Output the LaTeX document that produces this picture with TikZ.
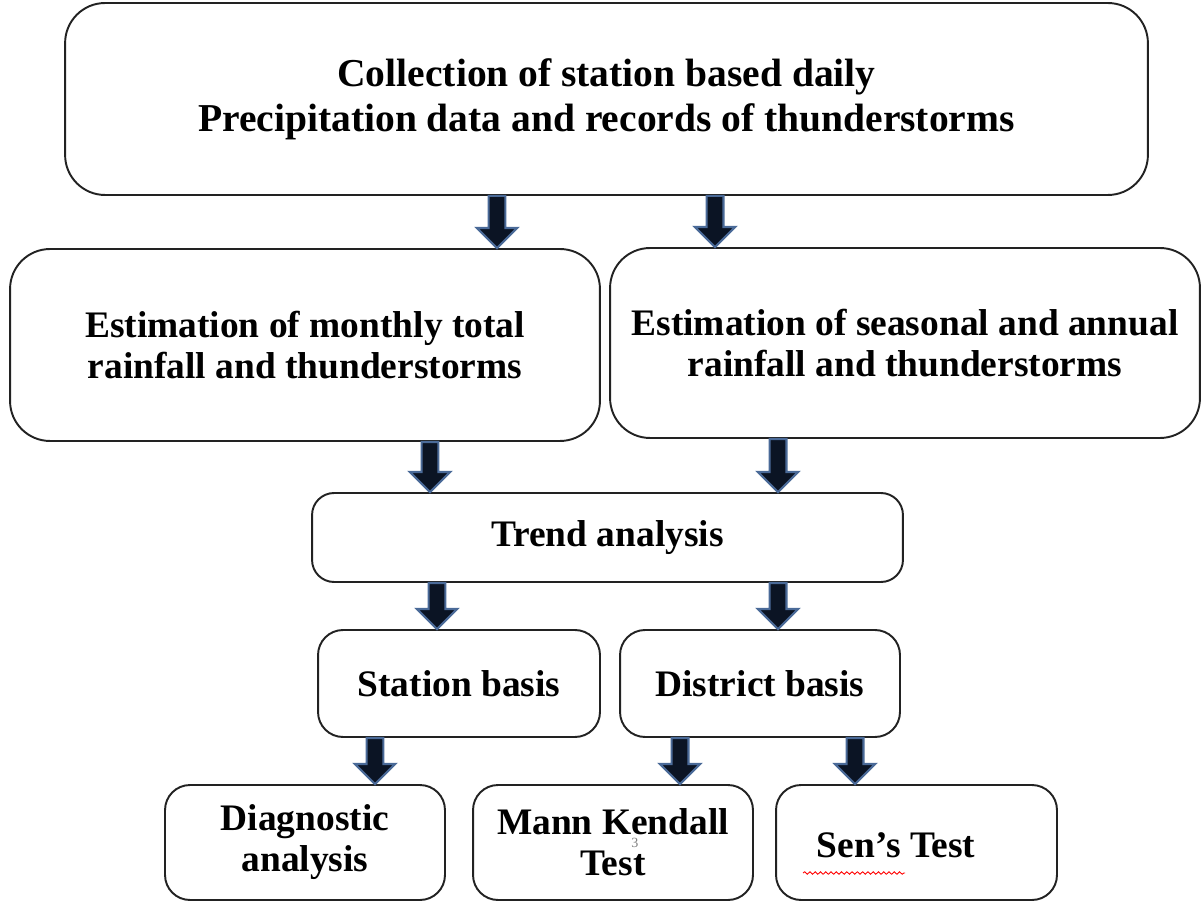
\documentclass[tikz,border=0pt]{standalone}
\usepackage{fontspec}
\setmainfont{Liberation Serif}
\usetikzlibrary{calc,decorations.pathmorphing}
\definecolor{arrfill}{HTML}{0B1424}
\definecolor{arredge}{HTML}{4A6A98}
\definecolor{boxline}{HTML}{222222}
\tikzset{
 box/.style={draw=boxline, line width=1.1pt, rectangle, align=center, inner sep=0pt,
   font=\bfseries\fontsize{21.3}{23.3}\selectfont},
 boxtext/.style={align=center, inner sep=0pt, font=\bfseries\fontsize{21.3}{23.3}\selectfont},
 blockarrow/.style={fill=arrfill, draw=arredge, line width=1.2pt, line join=miter,
   to path={let \p1=(\tikztostart), \p2=(\tikztotarget) in
     (\x1-4.8pt,\y1) -- (\x1-4.8pt,\y2+11.4pt) -- (\x1-11.5pt,\y2+11.4pt) -- (\x1,\y2)
     -- (\x1+11.5pt,\y2+11.4pt) -- (\x1+4.8pt,\y2+11.4pt) -- (\x1+4.8pt,\y1) -- cycle}},
}
\begin{document}
\begin{tikzpicture}[x=0.02cm,y=-0.02cm]
\useasboundingbox (0,0) rectangle (1202,908);
\node[box, rounded corners=0.8cm, minimum width=21.66cm, minimum height=3.84cm,
  font=\bfseries\fontsize{22.5}{25.6}\selectfont] (top) at (606.5,99)
  {Collection of station based daily\\Precipitation data and records of thunderstorms};
\node[box, rounded corners=0.8cm, minimum width=11.8cm, minimum height=3.84cm] (left) at (305,345)
  {Estimation of monthly total\\rainfall and thunderstorms};
\node[box, rounded corners=0.8cm, minimum width=11.8cm, minimum height=3.8cm] (right) at (905,343)
  {Estimation of seasonal and annual\\rainfall and thunderstorms};
\node[box, rounded corners=0.44cm, minimum width=11.82cm, minimum height=1.78cm] (trend) at (607.5,537.5)
  {Trend analysis};
\node[box, rounded corners=0.5cm, minimum width=5.64cm, minimum height=2.14cm] (station) at (459,683.5)
  {Station basis};
\node[box, rounded corners=0.5cm, minimum width=5.6cm, minimum height=2.14cm] (district) at (760,683.5)
  {District basis};
\node[box, rounded corners=0.5cm, minimum width=5.6cm, minimum height=2.3cm] (diag) at (305,842.5)
  {Diagnostic\\analysis};
\node[box, rounded corners=0.5cm, minimum width=5.6cm, minimum height=2.3cm] (mann) at (613,842.5)
  {Mann Kendall\\Test};
\node[box, rounded corners=0.5cm, minimum width=5.62cm, minimum height=2.3cm] (sens) at (916.5,842.5) {};
\node[boxtext] (senstxt) at (896,845) {Sen's Test};
\node[text=gray, font=\fontsize{8}{8}\selectfont, inner sep=0pt] (pg) at (635,843) {3};
\draw[red, line width=0.5pt, decorate, decoration={snake, amplitude=0.7pt, segment length=3pt}]
  (803,873) -- (905,873);
\coordinate (a1) at (497,0);
\coordinate (a2) at (715,0);
\coordinate (a3) at (430,0);
\coordinate (a4) at (778,0);
\coordinate (a5) at (437,0);
\coordinate (a6) at (778,0);
\coordinate (a7) at (375,0);
\coordinate (a8) at (680,0);
\coordinate (a9) at (855,0);
\draw[blockarrow] (top.south -| a1) to (left.north -| a1);
\draw[blockarrow] (top.south -| a2) to (right.north -| a2);
\draw[blockarrow] (left.south -| a3) to (trend.north -| a3);
\draw[blockarrow] (right.south -| a4) to (trend.north -| a4);
\draw[blockarrow] (trend.south -| a5) to (station.north -| a5);
\draw[blockarrow] (trend.south -| a6) to (district.north -| a6);
\draw[blockarrow] (station.south -| a7) to (diag.north -| a7);
\draw[blockarrow] (district.south -| a8) to (mann.north -| a8);
\draw[blockarrow] (district.south -| a9) to (sens.north -| a9);
\end{tikzpicture}
\end{document}
